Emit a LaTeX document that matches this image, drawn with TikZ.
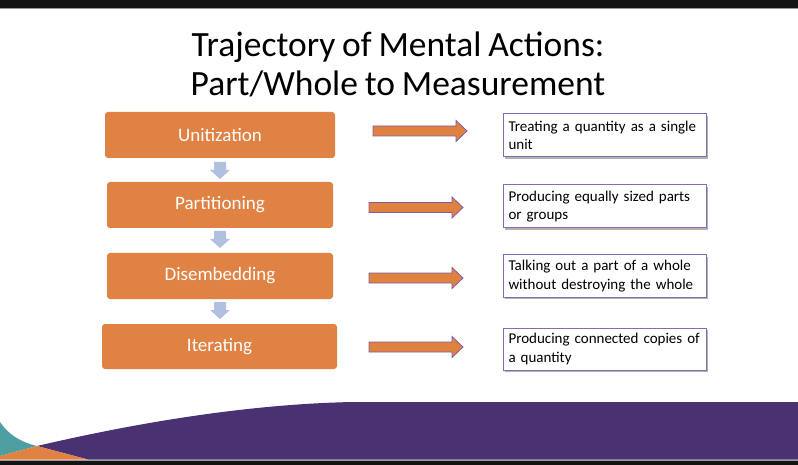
\documentclass[tikz,border=0pt]{standalone}
\usepackage{fontspec}
\setmainfont{Carlito}[WordSpace=0.85]
\definecolor{boxorange}{HTML}{DF8244}
\definecolor{arroworange}{HTML}{E0823F}
\definecolor{arrowpurple}{HTML}{7E5CA8}
\definecolor{descpurple}{HTML}{8A68B2}
\definecolor{arrowblue}{HTML}{B2C0E0}
\definecolor{deeppurple}{HTML}{4A3172}
\definecolor{tealc}{HTML}{4E9FA2}
\definecolor{barblack}{HTML}{141414}
\tikzset{
  orangebox/.style={rectangle, rounded corners=3pt, fill=boxorange, text=white,
    font=\fontsize{19}{22}\selectfont},
  descbox/.style={rectangle, draw=descpurple, line width=1pt, fill=white,
    text width=192pt, inner xsep=5.5pt, inner ysep=0pt, align=left,
    minimum width=203pt, font=\fontsize{15}{18.5}\selectfont},
  descshadow/.style={fill=black!30},
  downarrow/.style={fill=arrowblue},
  rightarrow/.style={fill=arroworange, draw=arrowpurple, line width=0.8pt},
  rarrow/.pic={\path[rightarrow] (0,-5)--(83,-5)--(83,-10.5)--(94,0)--(83,10.5)--(83,5)--(0,5)--cycle;},
  darrow/.pic={\path[downarrow] (-6,0)--(6,0)--(6,8)--(10,8)--(0,17)--(-10,8)--(-6,8)--cycle;},
  titletext/.style={font=\fontsize{35.5}{39}\selectfont, align=center, text=black}
}
\begin{document}
\hyphenpenalty=10000
\exhyphenpenalty=10000
\begin{tikzpicture}[x=1pt,y=-1pt]
\useasboundingbox (0,0) rectangle (798,465);
\fill[white] (0,0) rectangle (798,465);
% top and bottom bars
\fill[barblack] (0,0) rectangle (798,8);
\fill[black!40] (0,8) rectangle (798,9);
\fill[black!40] (0,459.5) rectangle (798,461);
\fill[barblack] (0,461) rectangle (798,465);
% bottom decoration
\fill[tealc] (0,422) .. controls (8,434) and (20,442) .. (37,446) -- (0,456) -- cycle;
\fill[deeppurple] (37,446) .. controls (140,422) and (250,404) .. (353,402) -- (798,402) -- (798,459.5) -- (88,459.5) -- cycle;
\fill[boxorange] (0,456) -- (37,446) -- (88,459.5) -- (0,459.5) -- cycle;
% title
\node[titletext] (title) at (398,64) {Trajectory of Mental Actions:\\Part/Whole to Measurement};
% orange boxes
\node[orangebox, minimum width=230pt, minimum height=46pt] (u) at (220,135) {Unitization};
\node[orangebox, minimum width=226pt, minimum height=46pt] (p) at (220,205) {Partitioning};
\node[orangebox, minimum width=226pt, minimum height=46pt] (d) at (220,276) {Disembedding};
\node[orangebox, minimum width=235pt, minimum height=45pt] (i) at (219.5,346.5) {Iterating};
% down arrows
\pic at (220,162) {darrow};
\pic at (220,231) {darrow};
\pic at (220,302) {darrow};
% right arrows
\pic at (373,131) {rarrow};
\pic at (369,207.5) {rarrow};
\pic at (369,278) {rarrow};
\pic at (369,347) {rarrow};
% description boxes
\fill[descshadow] (505,116) rectangle (708,159);
\node[descbox, minimum height=43pt] (t1) at (604.5,135.5) {Treating a quantity as a single unit};
\fill[descshadow] (505,187) rectangle (708,230);
\node[descbox, minimum height=43pt] (t2) at (604.5,206.5) {Producing equally sized parts or groups};
\fill[descshadow] (505,257) rectangle (708,299);
\node[descbox, minimum height=42pt] (t3) at (604.5,276) {Talking out a part of a whole without destroying the whole};
\fill[descshadow] (505,330) rectangle (708,372);
\node[descbox, minimum height=42pt] (t4) at (604.5,349) {Producing connected copies of a quantity};
\end{tikzpicture}
\end{document}
